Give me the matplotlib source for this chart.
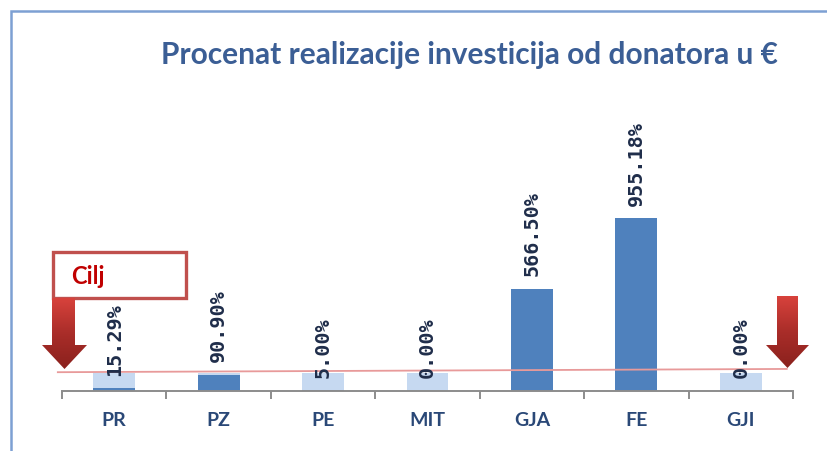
import matplotlib
matplotlib.use("Agg")
import matplotlib.pyplot as plt
import numpy as np
from matplotlib.patches import Polygon, Rectangle

# Data
kategorije = ["PR", "PZ", "PE", "MIT", "GJA", "FE", "GJI"]
realizacija = [15.29, 90.90, 5.00, 0.00, 566.50, 955.18, 0.00]
cilj = [100, 100, 100, 100, 100, 100, 100]
cilj_linija = [104, 122]  # red target line, left and right end

FONT = ["Lato", "DejaVu Sans"]

W, H = 828, 451
fig = plt.figure(figsize=(W / 100, H / 100), dpi=100)

def fx(px):
    return px / W

def fy(py):
    return 1 - py / H

# main axes: x from 62 to 793 px, baseline at 391 px
ax = fig.add_axes([fx(62), fy(391), fx(793) - fx(62), fy(100) - fy(391)])
x = np.arange(len(kategorije))
ax.bar(x, cilj, width=0.40, color="#C6D9F1", zorder=1)
ax.bar(x, realizacija, width=0.40, color="#4F81BD", zorder=2)
ax.set_xlim(-0.5, 6.5)
ax.set_ylim(0, 291 / 0.1808)

# target line
ax.plot([-0.54, 6.44], cilj_linija, color="#E89A9A", lw=1.3, zorder=3, clip_on=False)

# value labels
for xi, v in zip(x, realizacija):
    ax.annotate(f"{v:.2f}%", (xi, v), xytext=(0, 9), textcoords="offset points",
                rotation=90, ha="center", va="bottom", fontsize=14.5,
                family="DejaVu Sans Mono", fontweight="bold", color="#1F2D4A", zorder=4)

# axes styling
for s in ["top", "right", "left"]:
    ax.spines[s].set_visible(False)
ax.spines["bottom"].set_color("#8C8C8C")
ax.spines["bottom"].set_linewidth(1.4)
ax.set_yticks([])
ax.set_xticks(np.arange(-0.5, 7, 1))
ax.set_xticklabels([])
ax.tick_params(axis="x", which="major", length=6, width=1.4, color="#8C8C8C", direction="out")
ax.set_xticks(x, minor=True)
ax.set_xticklabels(kategorije, minor=True)
ax.tick_params(axis="x", which="minor", length=0, pad=15)
for lbl in ax.get_xticklabels(minor=True):
    lbl.set_family(FONT)
    lbl.set_fontweight("bold")
    lbl.set_fontsize(14)
    lbl.set_color("#2A4877")

# overlay for title, frame, box and arrows (pixel coordinates)
ov = fig.add_axes([0, 0, 1, 1], zorder=5)
ov.set_xlim(0, W)
ov.set_ylim(H, 0)
ov.axis("off")
ov.patch.set_alpha(0)

# chart frame
ov.plot([11, 11, W + 2], [H + 2, 11, 11], color="#7DA0D3", lw=1.8, solid_joinstyle="miter")

# title
ov.text(469, 55, "Procenat realizacije investicija od donatora u \u20ac",
        ha="center", va="center", fontsize=21.5, fontweight="bold",
        family=FONT, color="#3B5E95")

# Cilj box
ov.add_patch(Rectangle((53, 252), 133, 46, facecolor="white", edgecolor="#C0504D", lw=2.4))
ov.text(71, 277, "Cilj", ha="left", va="center", fontsize=17, fontweight="bold",
        family=FONT, color="#C00000")

# red arrows with gradient
grad = np.linspace(0, 1, 256).reshape(-1, 1)
cmap = matplotlib.colors.LinearSegmentedColormap.from_list("r", ["#D8423C", "#A92D29", "#8A211D"])

def arrow(x0, x1, hx0, hx1, ytop, yhead, ytip):
    pts = [(x0, ytop), (x1, ytop), (x1, yhead), (hx1, yhead),
           ((hx0 + hx1) / 2, ytip), (hx0, yhead), (x0, yhead)]
    poly = Polygon(pts, closed=True, facecolor="none", edgecolor="none")
    ov.add_patch(poly)
    im = ov.imshow(grad, cmap=cmap, aspect="auto", extent=(hx0, hx1, ytip, ytop), zorder=6)
    im.set_clip_path(poly)

arrow(52, 75, 42, 87, 298, 345, 369)
arrow(777, 798, 766, 809, 296, 345, 368)
ov.set_xlim(0, W)
ov.set_ylim(H, 0)

fig.savefig("out.png", dpi=100)
